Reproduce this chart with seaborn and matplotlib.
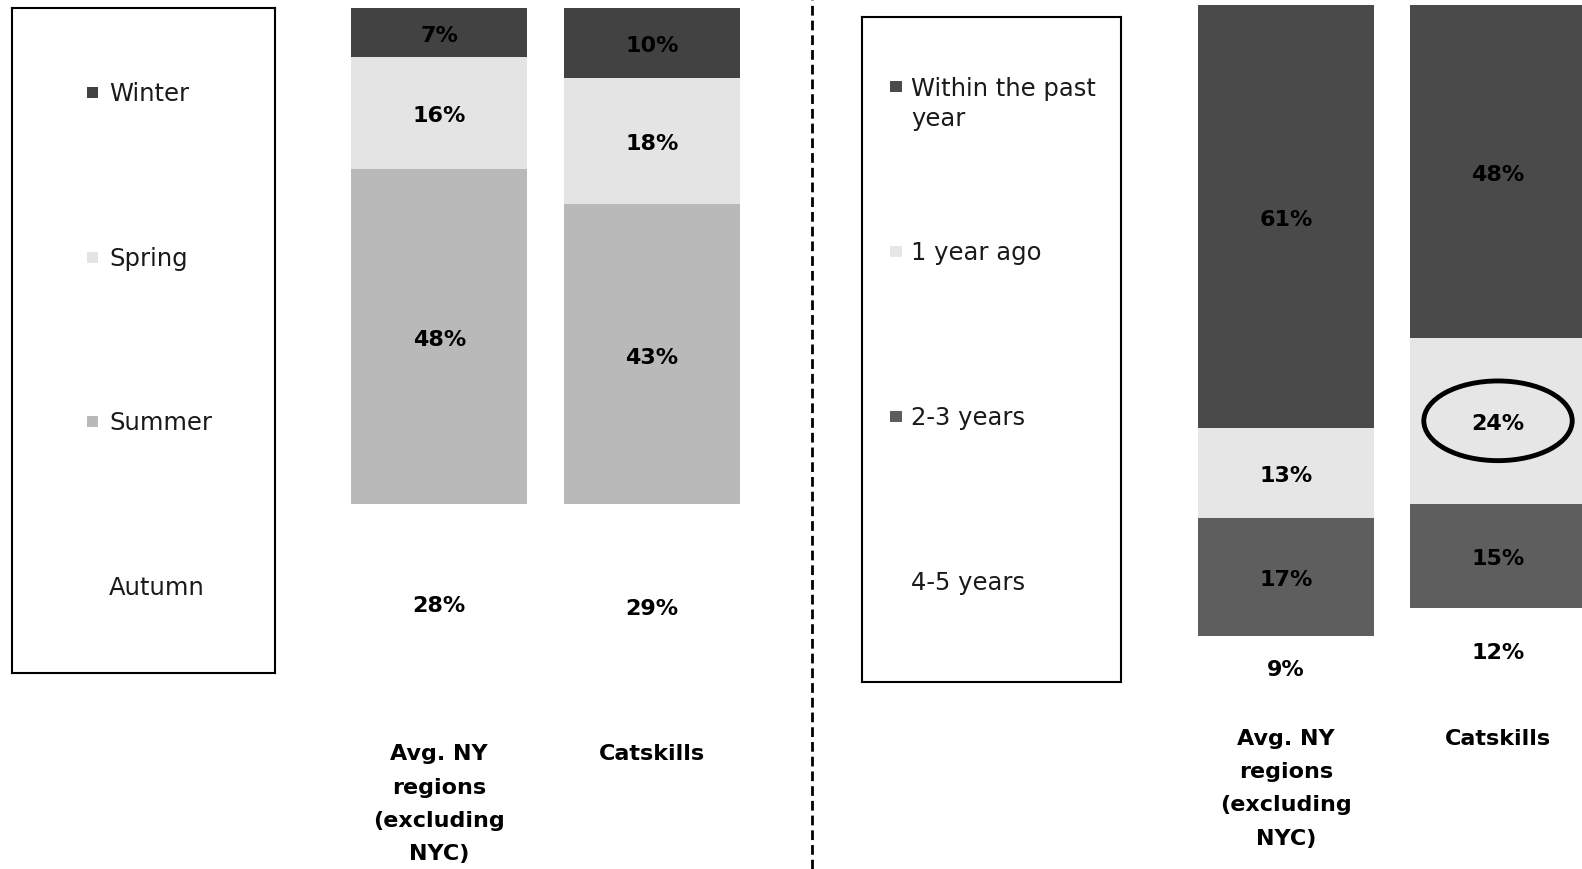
import matplotlib.pyplot as plt
import numpy as np
import seaborn as sns
from matplotlib.lines import Line2D
from matplotlib.patches import Ellipse, Rectangle

sns.set_theme(style='white')
plt.rcParams['font.family'] = ['DejaVu Sans']

# Data
regions = ['Avg. NY\nregions\n(excluding\nNYC)', 'Catskills']

season_labels = ['Winter', 'Spring', 'Summer', 'Autumn']
season_colors = ['#424242', '#e4e4e4', '#b9b9b9', '#ffffff']
avg_ny_season = [7, 16, 48, 28]
catskills_season = [10, 18, 43, 29]

recency_labels = ['Within the past\nyear', '1 year ago', '2-3 years', '4-5 years']
recency_colors = ['#4a4a4a', '#e6e6e6', '#5e5e5e', '#ffffff']
avg_ny_recency = [61, 13, 17, 9]
catskills_recency = [48, 24, 15, 12]

W, H = 1582, 869


def fig_rect(x0, y0, x1, y1):
    # pixel box -> figure fraction [left, bottom, width, height]
    return [x0 / W, 1 - y1 / H, (x1 - x0) / W, (y1 - y0) / H]


def draw_stack(ax, values_by_region, colors):
    vals = np.array(values_by_region)  # regions x segments
    cum = vals.cumsum(axis=1)
    # draw from the largest cumulative down so each layer sits on top
    for k in range(vals.shape[1] - 1, -1, -1):
        sns.barplot(x=regions, y=cum[:, k], color=colors[k], saturation=1,
                    width=0.83, linewidth=0, ax=ax)
    for i in range(vals.shape[0]):
        starts = cum[i] - vals[i]
        for k in range(vals.shape[1]):
            ax.text(i, starts[k] + vals[i, k] / 2 + 0.5, f'{vals[i, k]}%',
                    ha='center', va='center', fontsize=16, fontweight='bold',
                    color='black')
    ax.set_ylim(100, 0)
    ax.set_xlim(-0.415, 1.415)
    ax.set_yticks([])
    ax.set_ylabel('')
    ax.set_xlabel('')
    for s in ax.spines.values():
        s.set_visible(False)
    ax.tick_params(axis='x', length=0)
    for t in ax.get_xticklabels():
        t.set_fontsize(16)
        t.set_fontweight('bold')
        t.set_color('black')
        t.set_linespacing(1.82)
    ax.set_facecolor('none')


def draw_legend_box(ax, labels, colors, first_base, step, box_top, box_h,
                    text_x, marker_x, marker_w):
    ax.set_xticks([])
    ax.set_yticks([])
    ax.set_facecolor('white')
    for s in ax.spines.values():
        s.set_visible(True)
        s.set_color('black')
        s.set_linewidth(1.5)
    line_adv = 31
    for i, (lab, col) in enumerate(zip(labels, colors)):
        base = first_base + i * step
        extra = lab.count('\n') * line_adv
        yb = 1 - (base - box_top) / box_h
        ax.text(text_x, 1 - (base + extra - box_top) / box_h, lab,
                ha='left', va='baseline', fontsize=17.5, color='#1a1a1a',
                linespacing=1.34, transform=ax.transAxes)
        mh = 11 / box_h
        ax.add_patch(Rectangle((marker_x, yb + 3 / box_h), marker_w, mh,
                               facecolor=col, edgecolor='none',
                               transform=ax.transAxes))


fig = plt.figure(figsize=(W / 100, H / 100), dpi=100)

# left panel: season
leg1 = fig.add_axes(fig_rect(12, 8, 275, 673))
draw_legend_box(leg1, season_labels, season_colors, 101, 164.7, 8, 665,
                0.369, 0.285, 0.042)

ax1 = fig.add_axes(fig_rect(351, 8, 740, 707))
draw_stack(ax1, [avg_ny_season, catskills_season], season_colors)
ax1.tick_params(axis='x', pad=27)

# separator
fig.add_artist(Line2D([812 / W, 812 / W], [0, 1], color='black', lw=2,
                      linestyle=(0, (3.5, 1.8)), transform=fig.transFigure))

# right panel: last visit
leg2 = fig.add_axes(fig_rect(862, 17, 1121, 682))
draw_legend_box(leg2, recency_labels, recency_colors, 95, 165, 17, 665,
                0.189, 0.108, 0.045)

ax2 = fig.add_axes(fig_rect(1198, 5, 1586, 698))
draw_stack(ax2, [avg_ny_recency, catskills_recency], recency_colors)
ax2.tick_params(axis='x', pad=22.5)

# highlight ring around Catskills "1 year ago"
cat_cum = np.cumsum(catskills_recency)
ring_y = cat_cum[1] - catskills_recency[1] / 2
ax2.add_patch(Ellipse((1, ring_y), width=0.70, height=11.5, fill=False,
                      edgecolor='black', lw=3.5, clip_on=False, zorder=5))

fig.savefig('out.png', dpi=100)
